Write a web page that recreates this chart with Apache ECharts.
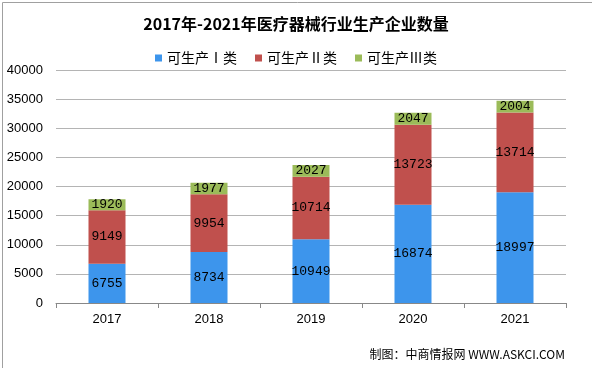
<!DOCTYPE html>
<html><head><meta charset="utf-8">
<script src="https://cdn.jsdelivr.net/npm/echarts@6/dist/echarts.min.js"></script>
<style>html,body{margin:0;padding:0;background:#fff}#c{width:592px;height:368px}</style>
</head><body><div id="c"></div>
<script>
var categories = ['2017','2018','2019','2020','2021'];
var classI = [6755, 8734, 10949, 16874, 18997];
var classII = [9149, 9954, 10714, 13723, 13714];
var classIII = [1920, 1977, 2027, 2047, 2004];
var seriesNames = ['可生产Ⅰ类','可生产Ⅱ类','可生产Ⅲ类'];
var yTicks = [0, 5000, 10000, 15000, 20000, 25000, 30000, 35000, 40000];

var chart = echarts.init(document.getElementById('c'));
var labelStyle = {show:true, position:'inside', color:'#000', fontFamily:'Liberation Mono, DejaVu Sans Mono, monospace', fontSize:13};
function mk(name, data, color){
  return {name:name, type:'bar', stack:'a', data:data, barWidth:37,
    itemStyle:{color:color}, label:labelStyle};
}
chart.setOption({
  animation:false,
  title:{text:'2017年-2021年医疗器械行业生产企业数量', left:'center', top:11,
    textStyle:{fontFamily:'Noto Sans CJK SC', fontWeight:'bold', fontSize:16, color:'#000'}},
  legend:{data:seriesNames, top:46, left:'center', itemWidth:7, itemHeight:7, itemGap:18, icon:'rect',
    textStyle:{fontFamily:'Noto Sans CJK SC', fontSize:14, color:'#000'}},
  grid:{left:56, right:26, top:70, bottom:65},
  xAxis:{type:'category', data:categories,
    axisLine:{lineStyle:{color:'#888'}},
    axisTick:{show:true, length:5, lineStyle:{color:'#888'}},
    axisLabel:{color:'#000', fontFamily:'Liberation Sans', fontSize:13, margin:10}},
  yAxis:{type:'value', min:yTicks[0], max:yTicks[yTicks.length-1], interval:yTicks[1]-yTicks[0],
    axisLine:{show:false}, axisTick:{show:false},
    splitLine:{lineStyle:{color:'#b4b4b4'}},
    axisLabel:{color:'#000', fontFamily:'Liberation Sans', fontSize:13, margin:13,
      formatter:function(v){return String(v);}}},
  graphic:[
    {type:'rect', left:0, top:0, shape:{width:591, height:367}, style:{fill:'none', stroke:'#a0a0a0', lineWidth:1}, silent:true},
    {type:'text', right:27, top:348, style:{text:'制图：中商情报网 WWW.ASKCI.COM', font:'12px "Noto Sans CJK SC"', fill:'#000'}}
  ],
  series:[mk(seriesNames[0], classI, '#3d95ec'), mk(seriesNames[1], classII, '#c0504d'), mk(seriesNames[2], classIII, '#9bbb59')]
});
</script></body></html>
